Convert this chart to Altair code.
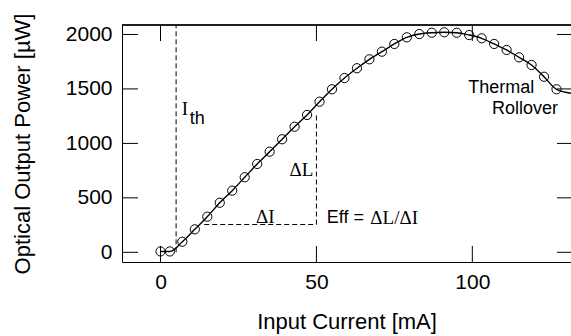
import altair as alt
import pandas as pd

# ---- data ----
current_ma = [0, 3, 7, 11, 15, 19, 23, 27, 31, 35, 39, 43, 47, 51, 55, 59, 63,
              67, 71, 75, 79, 83, 87, 91, 95, 99, 103, 107, 111, 115, 119, 123, 127]
power_uw = [8, 8, 97, 211, 327, 455, 566, 689, 811, 924, 1038, 1153, 1261, 1383,
            1497, 1600, 1690, 1772, 1842, 1913, 1974, 2004, 2016, 2020, 2016, 1995,
            1965, 1913, 1858, 1790, 1720, 1612, 1497]
fit_current = current_ma + [133]
fit_power = power_uw + [1455]

x_ticks = [0, 50, 100]
y_ticks = [0, 500, 1000, 1500, 2000]

ith_x = [5]
ith_y = [0]
ith_y2 = [2087]
di_x = [14]
di_x2 = [50]
di_y = [255]
dl_x = [50]
dl_y = [255]
dl_y2 = [1265]

sans_text = ["th", "Eff =", "Thermal", "Rollover"]
sans_x = [9.4, 53.3, 98.7, 106.3]
sans_y = [1221, 315, 1506, 1320]
sans_size = 18

serif_text = ["I", "\u0394I", "\u0394L/\u0394I"]
serif_x = [6.8, 30.6, 67.3]
serif_y = [1313, 320, 315]
serif_right_text = ["\u0394L"]
serif_right_x = [49]
serif_right_y = [760]

X_DOMAIN = [-12.35, 131.65]
Y_DOMAIN = [-89, 2087]
W, H = 449, 237

xs = alt.Scale(domain=X_DOMAIN, nice=False, zero=False)
ys = alt.Scale(domain=Y_DOMAIN, nice=False, zero=False)

xax = alt.Axis(values=x_ticks, ticks=False, grid=False, labelFontSize=21, format="d",
               labelFont="Liberation Sans", labelPadding=9, labelColor="black",
               domainColor="black", domainWidth=1,
               title="Input Current [mA]", titleFontSize=22, titleFont="Liberation Sans",
               titleFontWeight="normal", titleColor="black", titleY=59,
               titleBaseline="middle")
yax = alt.Axis(values=y_ticks, ticks=False, grid=False, labelFontSize=21, format="d",
               labelFont="Liberation Sans", labelPadding=10, labelColor="black",
               domainColor="black", domainWidth=1,
               title="Optical Output Power [\u00b5W]", titleFontSize=22,
               titleFont="Liberation Sans", titleFontWeight="normal", titleColor="black",
               titleX=-100, titleY=118.5, titleAlign="center", titleBaseline="middle",
               titleAngle=270)

pts = pd.DataFrame({"x": current_ma, "y": power_uw})
fit = pd.DataFrame({"x": fit_current, "y": fit_power})

X = lambda f="x": alt.X(f"{f}:Q", scale=xs, axis=xax)
Y = lambda f="y": alt.Y(f"{f}:Q", scale=ys, axis=yax)

line = alt.Chart(fit).mark_line(color="black", strokeWidth=1.4, clip=True,
                                interpolate="monotone").encode(x=X(), y=Y())
circles = alt.Chart(pts).mark_point(shape="circle", filled=False, size=85,
                                    color="black", strokeWidth=1, opacity=1).encode(x=X(), y=Y())

dash = [5, 3]
ith = alt.Chart(pd.DataFrame({"x": ith_x, "y": ith_y, "y2": ith_y2})).mark_rule(
    color="black", strokeDash=dash, strokeWidth=1).encode(x=X(), y=Y(), y2="y2:Q")
di = alt.Chart(pd.DataFrame({"x": di_x, "x2": di_x2, "y": di_y})).mark_rule(
    color="black", strokeDash=dash, strokeWidth=1).encode(x=X(), x2="x2:Q", y=Y())
dl = alt.Chart(pd.DataFrame({"x": dl_x, "y": dl_y, "y2": dl_y2})).mark_rule(
    color="black", strokeDash=dash, strokeWidth=1).encode(x=X(), y=Y(), y2="y2:Q")

tsans = alt.Chart(pd.DataFrame({"x": sans_x, "y": sans_y, "t": sans_text})).mark_text(
    font="Liberation Sans", fontSize=sans_size, align="left", baseline="middle", color="black"
).encode(x=X(), y=Y(), text="t:N")
tserif = alt.Chart(pd.DataFrame({"x": serif_x, "y": serif_y, "t": serif_text})).mark_text(
    font="Liberation Serif", fontSize=19, align="left", baseline="middle", color="black"
).encode(x=X(), y=Y(), text="t:N")
tserif_r = alt.Chart(pd.DataFrame({"x": serif_right_x, "y": serif_right_y, "t": serif_right_text})).mark_text(
    font="Liberation Serif", fontSize=19, align="right", baseline="middle", color="black"
).encode(x=X(), y=Y(), text="t:N")

ytk = pd.DataFrame({"y": y_ticks})
xtk = pd.DataFrame({"x": x_ticks})
ytick_l = alt.Chart(ytk).mark_rule(color="black", strokeWidth=1).encode(
    y=Y(), x=alt.value(0), x2=alt.value(16))
ytick_r = alt.Chart(ytk).mark_rule(color="black", strokeWidth=1).encode(
    y=Y(), x=alt.value(W - 14), x2=alt.value(W))
xtick_b = alt.Chart(xtk).mark_rule(color="black", strokeWidth=1).encode(
    x=X(), y=alt.value(H), y2=alt.value(H - 16))
xtick_t = alt.Chart(xtk).mark_rule(color="black", strokeWidth=1).encode(
    x=X(), y=alt.value(0), y2=alt.value(16))
top_border = alt.Chart(xtk).mark_rule(color="black", strokeWidth=1).encode(
    x=alt.value(0), x2=alt.value(W), y=alt.value(0))

chart = alt.layer(
    top_border, ytick_l, ytick_r, xtick_b, xtick_t,
    ith, di, dl, line, circles, tsans, tserif, tserif_r
).properties(
    width=W, height=H,
    padding={"left": 122, "top": 25, "right": 0, "bottom": 74},
    autosize=alt.AutoSizeParams(type="none"),
    background="white",
).configure_view(strokeWidth=0)

chart.save("out.html", embed_options={"renderer": "svg", "actions": False})
